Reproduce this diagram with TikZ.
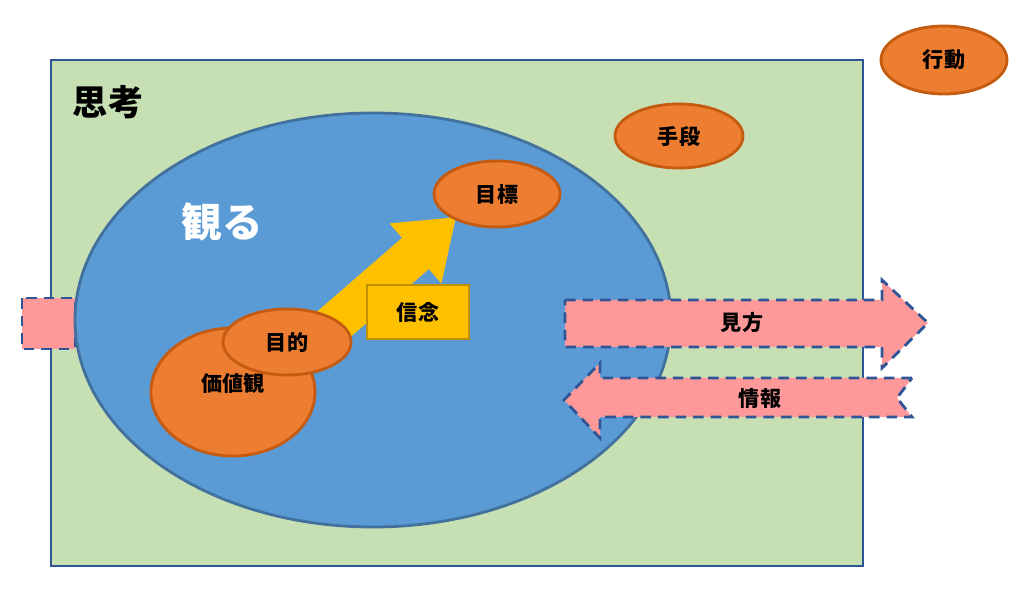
\documentclass[tikz,border=0pt]{standalone}
\usepackage{fontspec}
\setmainfont{Noto Sans CJK JP}
\definecolor{frame}{HTML}{2F5597}
\definecolor{think}{HTML}{C6E0B4}
\definecolor{see}{HTML}{5B9BD5}
\definecolor{seeline}{HTML}{41719C}
\definecolor{unit}{HTML}{ED7D31}
\definecolor{unitline}{HTML}{C55A11}
\definecolor{belief}{HTML}{FFC000}
\definecolor{beliefline}{HTML}{BF9000}
\definecolor{flow}{HTML}{FF9999}
\tikzset{
  unit/.style={ellipse, draw=unitline, fill=unit, thick, inner sep=0pt, font=\bfseries\fontsize{6}{7}\selectfont},
  flow/.style={draw=frame, fill=flow, thick, dashed, dash pattern=on 3pt off 2pt},
}
\usetikzlibrary{shapes.geometric}
\begin{document}
\begin{tikzpicture}[x=0.01cm,y=-0.01cm]
\useasboundingbox (0,0) rectangle (1024,607);
%% thinking area
\draw[frame, fill=think, thick] (51,60) rectangle (863,566);
\node (think) at (108,102) {\bfseries\fontsize{10}{12}\selectfont 思考};
% left stub
\draw[flow] (22,298) rectangle (75,349);
%% seeing
\draw[seeline, fill=see, thick] (373,320) ellipse [x radius=298, y radius=207];
\node[white] (see) at (222,222) {\bfseries\fontsize{11.5}{13}\selectfont 観る};
% arrow to the goal
\draw[belief, fill=belief] (331,353) -- (429,268) -- (441,282) -- (455,218)
  -- (391,224) -- (403,238) -- (305,323) -- cycle;
\node[draw=beliefline, fill=belief, thick, minimum width=1.02cm, minimum height=0.54cm,
  font=\bfseries\fontsize{6}{7}\selectfont] (belief) at (418,312) {信念};
\node[unit, minimum width=1.64cm, minimum height=1.28cm] (values) at (233,392) {\raisebox{0pt}[0pt][0pt]{価値観}};
\node[unit, minimum width=1.28cm, minimum height=0.66cm] (purpose) at (287,342) {目的};
\node[unit, minimum width=1.26cm, minimum height=0.66cm] (goal) at (497,194) {目標};
\node[unit, minimum width=1.28cm, minimum height=0.64cm] (means) at (679,136) {手段};
\node[unit, minimum width=1.26cm, minimum height=0.68cm] (action) at (944,60) {行動};
%% view and information
\draw[flow] (565,300) -- (882,300) -- (882,280) -- (928,323) -- (882,368)
  -- (882,347) -- (565,347) -- cycle;
\node[font=\bfseries\fontsize{6}{7}\selectfont] (view) at (742,323) {見方};
\draw[flow] (912,378) -- (600,378) -- (600,363) -- (564,400) -- (600,438)
  -- (600,417) -- (912,417) -- (897,398) -- cycle;
\node[font=\bfseries\fontsize{6}{7}\selectfont] (info) at (760,399) {情報};
\end{tikzpicture}
\end{document}
